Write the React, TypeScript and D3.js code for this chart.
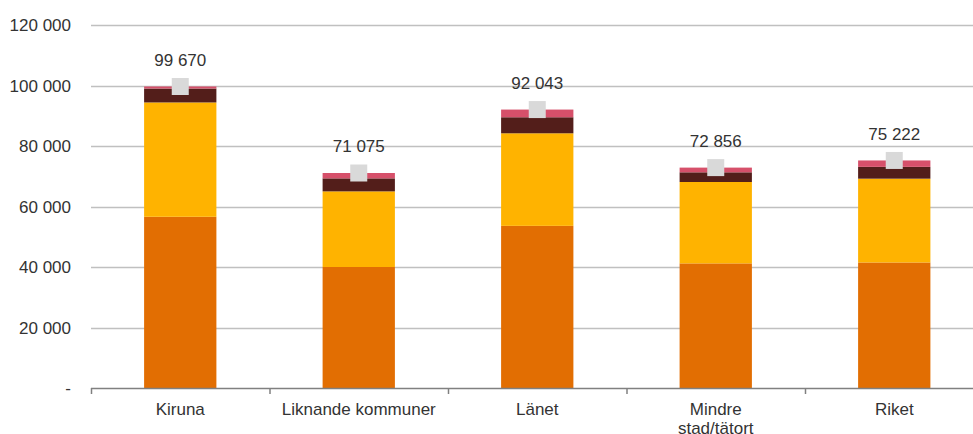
import React from "react";
import * as d3 from "d3";

const categories = ["Kiruna", "Liknande kommuner", "Länet", "Mindre\nstad/tätort", "Riket"];
const seriesOrange = [56600, 40000, 53600, 41200, 41500];
const seriesYellow = [37800, 25000, 30600, 26900, 27700];
const seriesDark = [4600, 4300, 5300, 3200, 3900];
const seriesRed = [670, 1775, 2543, 1556, 2122];
const totals = [99670, 71075, 92043, 72856, 75222];
const yTicks = [0, 20000, 40000, 60000, 80000, 100000, 120000];

const keys = ["orange", "yellow", "dark", "red"];
const colors: Record<string, string> = {
  orange: "#E26E02",
  yellow: "#FFB300",
  dark: "#531E1A",
  red: "#D6506A",
};

const W = 973;
const H = 434;
const FONT = "'Liberation Sans', Arial, sans-serif";

function fmt(v: number): string {
  if (v === 0) return "-";
  return d3.format(",")(v).replace(/,/g, " ");
}

export default function App() {
  const rows = categories.map((c, i) => ({
    cat: c,
    orange: seriesOrange[i],
    yellow: seriesYellow[i],
    dark: seriesDark[i],
    red: seriesRed[i],
    total: totals[i],
  }));
  const x = d3.scaleBand<string>().domain(categories).range([91, 983.5]).padding(0);
  const y = d3.scaleLinear().domain([0, 120000]).range([388, 25]);
  const stack = d3.stack<any>().keys(keys);
  const layers = stack(rows);
  const bw = x.bandwidth() * 0.405;
  const ms = 17;

  return (
    <svg width={W} height={H} style={{ position: "absolute", left: 0, top: 0 }} fontFamily={FONT}>
      <rect width={W} height={H} fill="#fff" />
      {yTicks.map((t) =>
        t === 0 ? null : (
          <line key={t} x1={91} x2={W} y1={Math.round(y(t)) + 0.5} y2={Math.round(y(t)) + 0.5} stroke="#C0C0C0" strokeWidth={1.5} />
        )
      )}
      {yTicks.map((t) => (
        <text key={"l" + t} x={71} y={y(t) + 6} textAnchor="end" fontSize={17} fill="#333">
          {fmt(t)}
        </text>
      ))}
      {layers.map((layer) =>
        layer.map((d, i) => (
          <rect
            key={layer.key + i}
            x={x(categories[i])! + x.bandwidth() / 2 - bw / 2}
            y={y(d[1])}
            width={bw}
            height={y(d[0]) - y(d[1])}
            fill={colors[layer.key]}
          />
        ))
      )}
      <line x1={91} x2={W} y1={388.5} y2={388.5} stroke="#808080" strokeWidth={1.5} />
      {categories.map((c) => (
        <line key={"t" + c} x1={x(c)! + 0.5} x2={x(c)! + 0.5} y1={388} y2={394} stroke="#808080" strokeWidth={1.5} />
      ))}
      {rows.map((r) => {
        const cx = x(r.cat)! + x.bandwidth() / 2;
        return (
          <g key={"m" + r.cat}>
            <rect x={cx - ms / 2} y={y(r.total) - ms / 2} width={ms} height={ms} fill="#D9D9D9" />
            <text x={cx} y={y(r.total) - 20.5} textAnchor="middle" fontSize={17} fill="#333">
              {fmt(r.total)}
            </text>
          </g>
        );
      })}
      {categories.map((c) => {
        const cx = x(c)! + x.bandwidth() / 2;
        return (
          <text key={"c" + c} x={cx} y={415} textAnchor="middle" fontSize={17} fill="#333">
            {c.split("\n").map((line, k) => (
              <tspan key={k} x={cx} dy={k === 0 ? 0 : 19}>
                {line}
              </tspan>
            ))}
          </text>
        );
      })}
    </svg>
  );
}
